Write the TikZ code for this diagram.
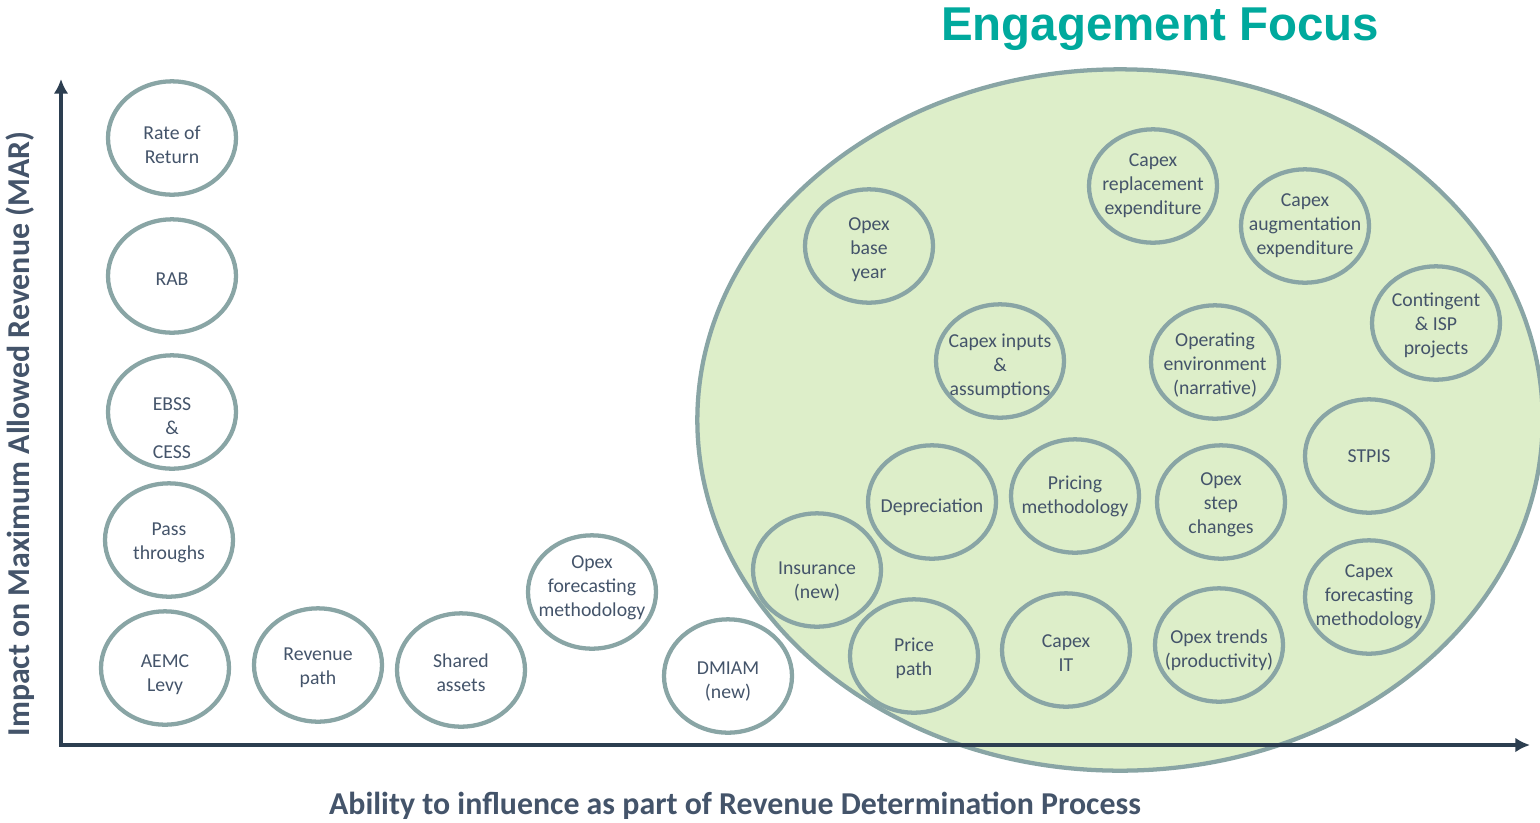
\documentclass[tikz,border=0pt]{standalone}
\usepackage{fontspec}
\setmainfont{Carlito}
\newfontfamily\titlefont{Liberation Sans}
\usetikzlibrary{shapes.geometric, arrows, arrows.meta, positioning}

\definecolor{ringgrey}{HTML}{89A5A5}
\definecolor{textblue}{HTML}{44546A}
\definecolor{axisblue}{HTML}{2C3E50}
\definecolor{focusgreen}{HTML}{DDEEC9}
\definecolor{titleteal}{HTML}{00A99D}

\begin{document}
\begin{tikzpicture}[
        x=0.75pt, y=-0.75pt,
        topic/.style={ellipse, draw=ringgrey, line width=3.2pt, minimum width=96pt, minimum height=85pt, inner sep=0pt},
        topictext/.style={align=center, text=textblue, inner sep=0pt, font=\fontsize{14.8}{18}\selectfont, yshift=-2pt},
        axisline/.style={line width=3.2pt, draw=axisblue, ->, >={Latex[length=11pt, width=11pt]}},
        axislabel/.style={text=textblue, font=\fontsize{23.9}{28}\selectfont\bfseries}
    ]
        \useasboundingbox (0,0) rectangle (1540,822);
        \clip (0,0) rectangle (1540,822);

        % engagement region
        \draw[fill=focusgreen, draw=ringgrey, line width=3.2pt] (1120,420) ellipse [x radius=317pt, y radius=263pt];
        \node[font=\titlefont\bfseries\fontsize{35.6}{40}\selectfont, text=titleteal, anchor=base] (title) at (1160,40) {Engagement Focus};

        % axes
        \coordinate (origin) at (59,745);
        \coordinate (ytip) at (61,79);
        \coordinate (xtip) at (1530,745);
        \draw[axisline] (ytip |- origin) -- (ytip);
        \draw[axisline] (origin) -- (xtip);
        \node[axislabel, rotate=90] (ylabel) at (20,434) {Impact on Maximum Allowed Revenue (MAR)};
        \node[axislabel] (xlabel) at (735,806) {Ability to influence as part of Revenue Determination Process};

        % left column
        \node[topic, label={[topictext, yshift=-3pt]center:Rate of\\Return}] (ror) at (172,138) {};
        \node[topic, label={[topictext]center:RAB}] (rab) at (172,276) {};
        \node[topic, label={[topictext, yshift=-10pt]center:EBSS\\\&\\CESS}] (ebss) at (172,412) {};
        \node[topic, label={[topictext]center:Pass\\throughs}] (pass) at (169,540) {};
        \node[topic, label={[topictext, yshift=-3pt]center:AEMC\\Levy}] (aemc) at (165,668) {};

        % bottom row
        \node[topic, label={[topictext]center:Revenue\\path}] (revpath) at (318,665) {};
        \node[topic, label={[topictext]center:Shared\\assets}] (shared) at (461,670) {};
        \node[topic, label={[topictext, yshift=5pt]center:Opex\\forecasting\\methodology}] (opexfc) at (592,592) {};
        \node[topic, label={[topictext, yshift=-2pt]center:DMIAM\\(new)}] (dmiam) at (728,676) {};

        % inside the engagement region
        \node[topic, label={[topictext, yshift=-7pt]center:Insurance\\(new)}] (insurance) at (817,570) {};
        \node[topic, label={[topictext]center:Price\\path}] (pricepath) at (914,656) {};
        \node[topic, label={[topictext, yshift=-2pt]center:Depreciation}] (depreciation) at (932,502) {};
        \node[topic, label={[topictext, yshift=2pt]center:Pricing\\methodology}] (pricing) at (1075,496) {};
        \node[topic, label={[topictext]center:Capex\\IT}] (capexit) at (1066,650) {};
        \node[topic, label={[topictext]center:Opex\\step\\changes}] (opexstep) at (1221,502) {};
        \node[topic, label={[topictext, yshift=-2pt]center:Opex trends\\(productivity)}] (opextrend) at (1219,645) {};
        \node[topic, label={[topictext, yshift=2pt]center:STPIS}] (stpis) at (1369,456) {};
        \node[topic, label={[topictext, yshift=2pt]center:Capex\\forecasting\\methodology}] (capexfc) at (1369,597) {};
        \node[topic, label={[topictext, yshift=-2pt]center:Capex inputs\\\&\\assumptions}] (capexinputs) at (1000,361) {};
        \node[topic, label={[topictext]center:Operating\\environment\\(narrative)}] (openv) at (1215,362) {};
        \node[topic, label={[topictext]center:Contingent\\\& ISP\\projects}] (contingent) at (1436,323) {};
        \node[topic, label={[topictext, yshift=-1pt]center:Opex\\base\\year}] (opexbase) at (869,246) {};
        \node[topic, label={[topictext, yshift=2pt]center:Capex\\replacement\\expenditure}] (capexrepl) at (1153,186) {};
        \node[topic, label={[topictext, yshift=2pt]center:Capex\\augmentation\\expenditure}] (capexaug) at (1305,226) {};
    \end{tikzpicture}
\end{document}
